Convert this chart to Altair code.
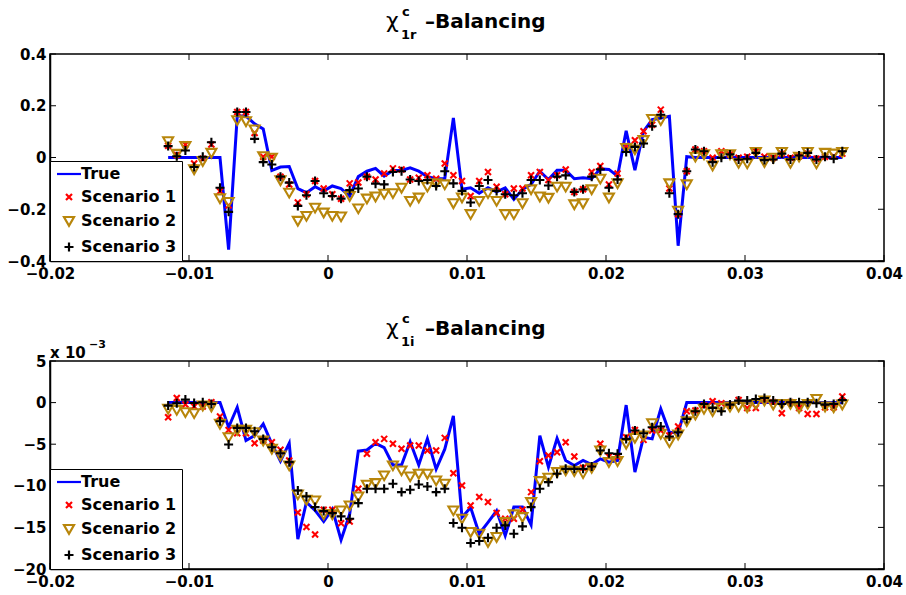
import altair as alt
import pandas as pd

# ---------------- data ----------------
X = [-0.01150, -0.01088, -0.01026, -0.00963, -0.00901, -0.00839, -0.00777, -0.00715, -0.00653, -0.00590,
     -0.00528, -0.00466, -0.00404, -0.00342, -0.00279, -0.00217, -0.00155, -0.00093, -0.00031, 0.00031,
     0.00094, 0.00156, 0.00218, 0.00280, 0.00342, 0.00404, 0.00467, 0.00529, 0.00591, 0.00653,
     0.00715, 0.00778, 0.00840, 0.00902, 0.00964, 0.01026, 0.01088, 0.01151, 0.01213, 0.01275,
     0.01337, 0.01399, 0.01461, 0.01524, 0.01586, 0.01648, 0.01710, 0.01772, 0.01835, 0.01897,
     0.01959, 0.02021, 0.02083, 0.02145, 0.02208, 0.02270, 0.02332, 0.02394, 0.02456, 0.02519,
     0.02581, 0.02643, 0.02705, 0.02767, 0.02830, 0.02892, 0.02954, 0.03016, 0.03078, 0.03140,
     0.03203, 0.03265, 0.03327, 0.03389, 0.03451, 0.03514, 0.03576, 0.03638, 0.03700]

# top panel (chi_1r)
R_TRUE = [0, 0, 0, 0, 0, 0, 0, -0.356, 0.16, 0.16,
          0.13, 0.11, -0.05, -0.037, -0.035, -0.12, -0.136, -0.113, -0.13, -0.11,
          -0.12, -0.149, -0.074, -0.053, -0.042, -0.072, -0.05, -0.05, -0.04, -0.053,
          -0.074, -0.082, -0.082, 0.153, -0.123, -0.117, -0.138, -0.117, -0.133, -0.117,
          -0.162, -0.123, -0.104, -0.053, -0.085, -0.049, -0.049, -0.082, -0.078, -0.082,
          -0.044, -0.046, -0.072, 0.103, -0.049, 0.101, 0.146, 0.153, 0.159, -0.341,
          0.003, 0, 0, 0, 0, 0, 0, 0, 0, 0,
          0, 0, 0, 0, 0, 0, 0, 0, 0]
R_S1 = [0.045, 0.01, 0.05, -0.023, -0.005, 0.05, -0.13, -0.185, 0.176, 0.176,
        0.095, 0.003, 0.003, -0.074, -0.104, -0.174, -0.142, -0.091, -0.12, -0.142,
        -0.159, -0.1, -0.097, -0.074, -0.085, -0.062, -0.042, -0.046, -0.085, -0.078,
        -0.069, -0.082, -0.023, -0.069, -0.091, -0.149, -0.091, -0.056, -0.113, -0.142,
        -0.12, -0.12, -0.069, -0.056, -0.087, -0.069, -0.046, -0.133, -0.123, -0.056,
        -0.033, -0.104, -0.062, 0.044, 0.067, 0.101, 0.127, 0.185, -0.12, -0.219,
        -0.053, 0.031, 0.024, -0.001, 0.024, 0.012, -0.001, 0.003, 0.024, 0.003,
        -0.001, 0.015, -0.001, 0.005, 0.015, -0.005, 0.003, 0.005, 0.015]
R_S2 = [0.063, 0.014, 0.044, -0.046, -0.014, 0.018, -0.158, -0.172, 0.144, 0.14,
        0.108, 0.005, -0.001, -0.088, -0.136, -0.245, -0.226, -0.194, -0.213, -0.226,
        -0.228, -0.149, -0.197, -0.159, -0.151, -0.14, -0.138, -0.117, -0.168, -0.155,
        -0.113, -0.1, -0.104, -0.177, -0.155, -0.219, -0.168, -0.138, -0.168, -0.219,
        -0.219, -0.177, -0.123, -0.151, -0.156, -0.113, -0.113, -0.181, -0.177, -0.123,
        -0.082, -0.155, -0.1, 0.037, 0.031, 0.067, 0.149, 0.144, -0.1, -0.206,
        -0.104, 0.003, 0.012, -0.031, 0.012, 0.012, -0.021, -0.023, 0.021, -0.018,
        -0.001, 0.021, -0.021, 0.003, 0.021, -0.023, 0.018, 0.015, 0.021]
R_S3 = [0.044, 0.005, 0.027, -0.037, 0.003, 0.059, -0.117, -0.21, 0.176, 0.176,
        0.072, -0.018, -0.027, -0.074, -0.097, -0.187, -0.146, -0.091, -0.138, -0.149,
        -0.159, -0.126, -0.12, -0.074, -0.101, -0.104, -0.056, -0.053, -0.085, -0.091,
        -0.087, -0.11, -0.053, -0.1, -0.129, -0.174, -0.11, -0.087, -0.129, -0.142,
        -0.146, -0.138, -0.087, -0.087, -0.108, -0.074, -0.069, -0.133, -0.123, -0.074,
        -0.046, -0.117, -0.085, 0.021, 0.041, 0.054, 0.121, 0.165, -0.138, -0.219,
        -0.053, 0.031, 0.024, -0.018, -0.001, 0.012, -0.008, -0.005, 0.018, -0.01,
        -0.008, 0.015, -0.008, 0.008, 0.018, -0.008, 0.003, -0.005, 0.024]

# bottom panel (chi_1i), in units of 1e-3
I_TRUE = [0, 0, 0, 0, 0, 0, 0, -2.96, -0.56, -4.56,
          -3.96, -2.56, -4.96, -7.04, -4.88, -16.4, -11.96, -12.96, -14.3, -12.8,
          -16.5, -13.4, -5.84, -5.7, -4.9, -5.4, -7.5, -7.5, -4.7, -7.5,
          -4.36, -8.0, -5.6, -1.6, -13.8, -12.6, -15.76, -14.4, -13.0, -16.0,
          -12.56, -12.56, -14.7, -3.96, -7.76, -4.3, -6.96, -7.56, -6.96, -7.44,
          -6.76, -7.16, -6.96, -0.3, -8.36, -4.16, -4.36, -0.76, -3.56, -3.68,
          0, 0, 0, 0, 0, 0, 0, 0, 0, 0,
          0, 0, 0, 0, 0, 0, 0, 0, 0]
I_S1 = [-1.76, 0.56, -0.24, -0.48, -0.48, 0.04, -1.68, -3.28, -3.68, -3.68,
        -4.88, -4.56, -4.76, -5.68, -6.96, -13.2, -14.96, -15.84, -12.88, -12.88,
        -14.5, -14.3, -10.36, -6.16, -4.76, -4.36, -4.96, -5.56, -5.16, -5.16,
        -5.76, -5.76, -4.24, -8.48, -9.96, -12.36, -11.36, -11.96, -13.28, -13.96,
        -13.96, -12.88, -10.76, -7.04, -6.36, -5.96, -4.76, -6.48, -7.84, -7.68,
        -4.96, -6.48, -6.5, -4.16, -3.28, -4.48, -3.36, -3.36, -3.96, -2.88,
        -1.04, -0.96, -0.36, 0.16, -0.08, -0.36, 0.32, -0.64, -0.64, 0.32,
        0.04, -1.28, 0.04, -0.64, -1.36, -1.36, -0.56, -0.56, 0.72]
I_S2 = [-0.76, -0.88, -1.16, -1.28, -0.36, -0.48, -2.56, -4.16, -3.28, -3.28,
        -3.56, -4.56, -5.56, -6.36, -7.56, -11.04, -11.68, -11.76, -13.44, -13.44,
        -12.96, -12.36, -11.28, -9.88, -9.68, -8.76, -7.56, -8.16, -8.88, -8.56,
        -8.56, -9.36, -9.76, -12.96, -13.96, -15.56, -15.76, -16.76, -16.16, -14.36,
        -13.44, -13.76, -11.96, -9.44, -9.04, -8.36, -8.16, -8.24, -8.48, -7.84,
        -5.76, -7.16, -7.04, -4.96, -4.24, -3.96, -2.48, -3.76, -4.76, -3.84,
        -2.24, -1.44, -0.76, -1.04, -0.64, -0.48, -0.48, -0.56, -0.16, 0.24,
        -0.24, -0.16, -0.16, -0.64, -0.16, 0.44, -0.48, -0.56, -0.24]
I_S3 = [-0.36, -0.08, 0.36, -0.04, 0.04, -0.16, -2.24, -5.04, -3.04, -3.04,
        -3.44, -4.36, -5.36, -6.08, -7.16, -10.56, -11.28, -12.56, -13.04, -13.28,
        -13.68, -13.96, -12.08, -10.36, -10.36, -10.36, -9.76, -10.76, -10.48, -9.84,
        -10.08, -10.76, -10.36, -14.48, -15.04, -16.88, -16.64, -16.24, -15.04, -14.76,
        -15.76, -14.88, -12.56, -10.36, -9.56, -8.56, -7.96, -7.96, -7.96, -7.68,
        -5.76, -6.08, -6.16, -4.36, -3.36, -3.68, -2.96, -2.88, -4.08, -3.56,
        -1.96, -1.04, -0.16, -0.64, -1.04, -0.24, 0.24, 0.24, 0.44, 0.56,
        0.24, -0.16, 0.04, 0.04, 0.04, -0.08, -0.24, -0.16, 0.32]

SERIES = ["True", "Scenario 1", "Scenario 2", "Scenario 3"]
X_TICKS = [-0.02, -0.01, 0, 0.01, 0.02, 0.03, 0.04]
R_TICKS = [-0.4, -0.2, 0, 0.2, 0.4]
I_TICKS = [-20, -15, -10, -5, 0, 5]

# ---------------- styling ----------------
COLORS = ["#0000ff", "#ff0000", "#b8860b", "#000000"]
SHAPES = ["M-2.4,0L2.4,0",
          "M-0.6,-0.6L0.6,0.6M-0.6,0.6L0.6,-0.6",
          "M-1,-0.8L1,-0.8L0,0.95Z",
          "M-0.9,0L0.9,0M0,-0.9L0,0.9"]
W = 834
FONT = "DejaVu Sans"
TICK = 6


def one_row():
    return pd.DataFrame({"k": [0]})


def txt(x, y, s, size, weight="bold"):
    return alt.Chart(one_row()).mark_text(
        align="left", baseline="alphabetic", font=FONT, fontSize=size,
        fontWeight=weight, color="black"
    ).encode(x=alt.value(x), y=alt.value(y), text=alt.value(s))


def panel(y_true, s1, s2, s3, ydom, yticks, sub, H, exponent):
    xs = alt.Scale(domain=[-0.02, 0.04], nice=False, zero=False)
    ys = alt.Scale(domain=ydom, nice=False, zero=False)
    xax = alt.Axis(values=X_TICKS, format="~g", labelFlush=False)
    yax = alt.Axis(values=yticks, format="~g", labelPadding=4)

    line_df = pd.DataFrame({"x": X, "y": y_true})
    pts_df = pd.DataFrame({
        "x": X * 3,
        "y": s1 + s2 + s3,
        "series": ["Scenario 1"] * len(X) + ["Scenario 2"] * len(X) + ["Scenario 3"] * len(X),
    })

    leg = alt.Legend(
        title=None, orient="bottom-left", offset=0,
        fillColor="white", strokeColor="black", padding=5,
        labelFont=FONT, labelFontWeight="bold", labelFontSize=16, labelColor="black",
        labelLimit=300, symbolSize=100, symbolStrokeWidth=2.2,
        symbolOffset=6, labelOffset=4, rowPadding=7,
    )

    line = alt.Chart(line_df).mark_line(color="#0000ff", strokeWidth=3).encode(
        x=alt.X("x:Q", scale=xs, title=None, axis=xax),
        y=alt.Y("y:Q", scale=ys, title=None, axis=yax),
    )
    pts = alt.Chart(pts_df).mark_point(filled=False, size=100, strokeWidth=2.1, opacity=1).encode(
        x=alt.X("x:Q", scale=xs, title=None, axis=xax),
        y=alt.Y("y:Q", scale=ys, title=None, axis=yax),
        color=alt.Color("series:N", scale=alt.Scale(domain=SERIES, range=COLORS), legend=leg),
        shape=alt.Shape("series:N", scale=alt.Scale(domain=SERIES, range=SHAPES), legend=leg),
    )

    xt = pd.DataFrame({"t": X_TICKS})
    yt = pd.DataFrame({"t": yticks})
    rule = dict(color="black", strokeWidth=1)
    tb = alt.Chart(xt).mark_rule(**rule).encode(
        x=alt.X("t:Q", scale=xs, title=None, axis=xax), y=alt.value(H), y2=alt.value(H - TICK))
    tt = alt.Chart(xt).mark_rule(**rule).encode(
        x=alt.X("t:Q", scale=xs, title=None, axis=xax), y=alt.value(0), y2=alt.value(TICK))
    tl = alt.Chart(yt).mark_rule(**rule).encode(
        y=alt.Y("t:Q", scale=ys, title=None, axis=yax), x=alt.value(0), x2=alt.value(TICK))
    tr = alt.Chart(yt).mark_rule(**rule).encode(
        y=alt.Y("t:Q", scale=ys, title=None, axis=yax), x=alt.value(W), x2=alt.value(W - TICK))

    titles = [
        txt(336, -26, "χ", 22, "normal"),
        txt(352, -38, "c", 13),
        txt(351, -15, sub, 13),
        txt(375, -26, "–Balancing", 20),
    ]
    if exponent:
        titles += [txt(0, -3, "x 10", 15), txt(39, -13, "−3", 11)]

    return alt.layer(line, pts, tb, tt, tl, tr, *titles).properties(width=W, height=H)


top = panel(R_TRUE, R_S1, R_S2, R_S3, [-0.4, 0.4], R_TICKS, "1r", 207, False)
bottom = panel(I_TRUE, I_S1, I_S2, I_S3, [-20, 5], I_TICKS, "1i", 208, True)

chart = alt.vconcat(top, bottom, spacing=100, bounds="flush").resolve_scale(
    color="independent", shape="independent"
).configure(
    padding={"left": 6, "top": 5, "right": 0, "bottom": 0},
    background="white",
).configure_view(
    stroke="black", strokeWidth=1.5
).configure_axis(
    grid=False, ticks=False, domainColor="black", domainWidth=1.5,
    labelFont=FONT, labelFontSize=15, labelFontWeight="bold", labelColor="black",
    labelPadding=5,
)

chart.save("out.html", embed_options={"renderer": "svg", "actions": False})
